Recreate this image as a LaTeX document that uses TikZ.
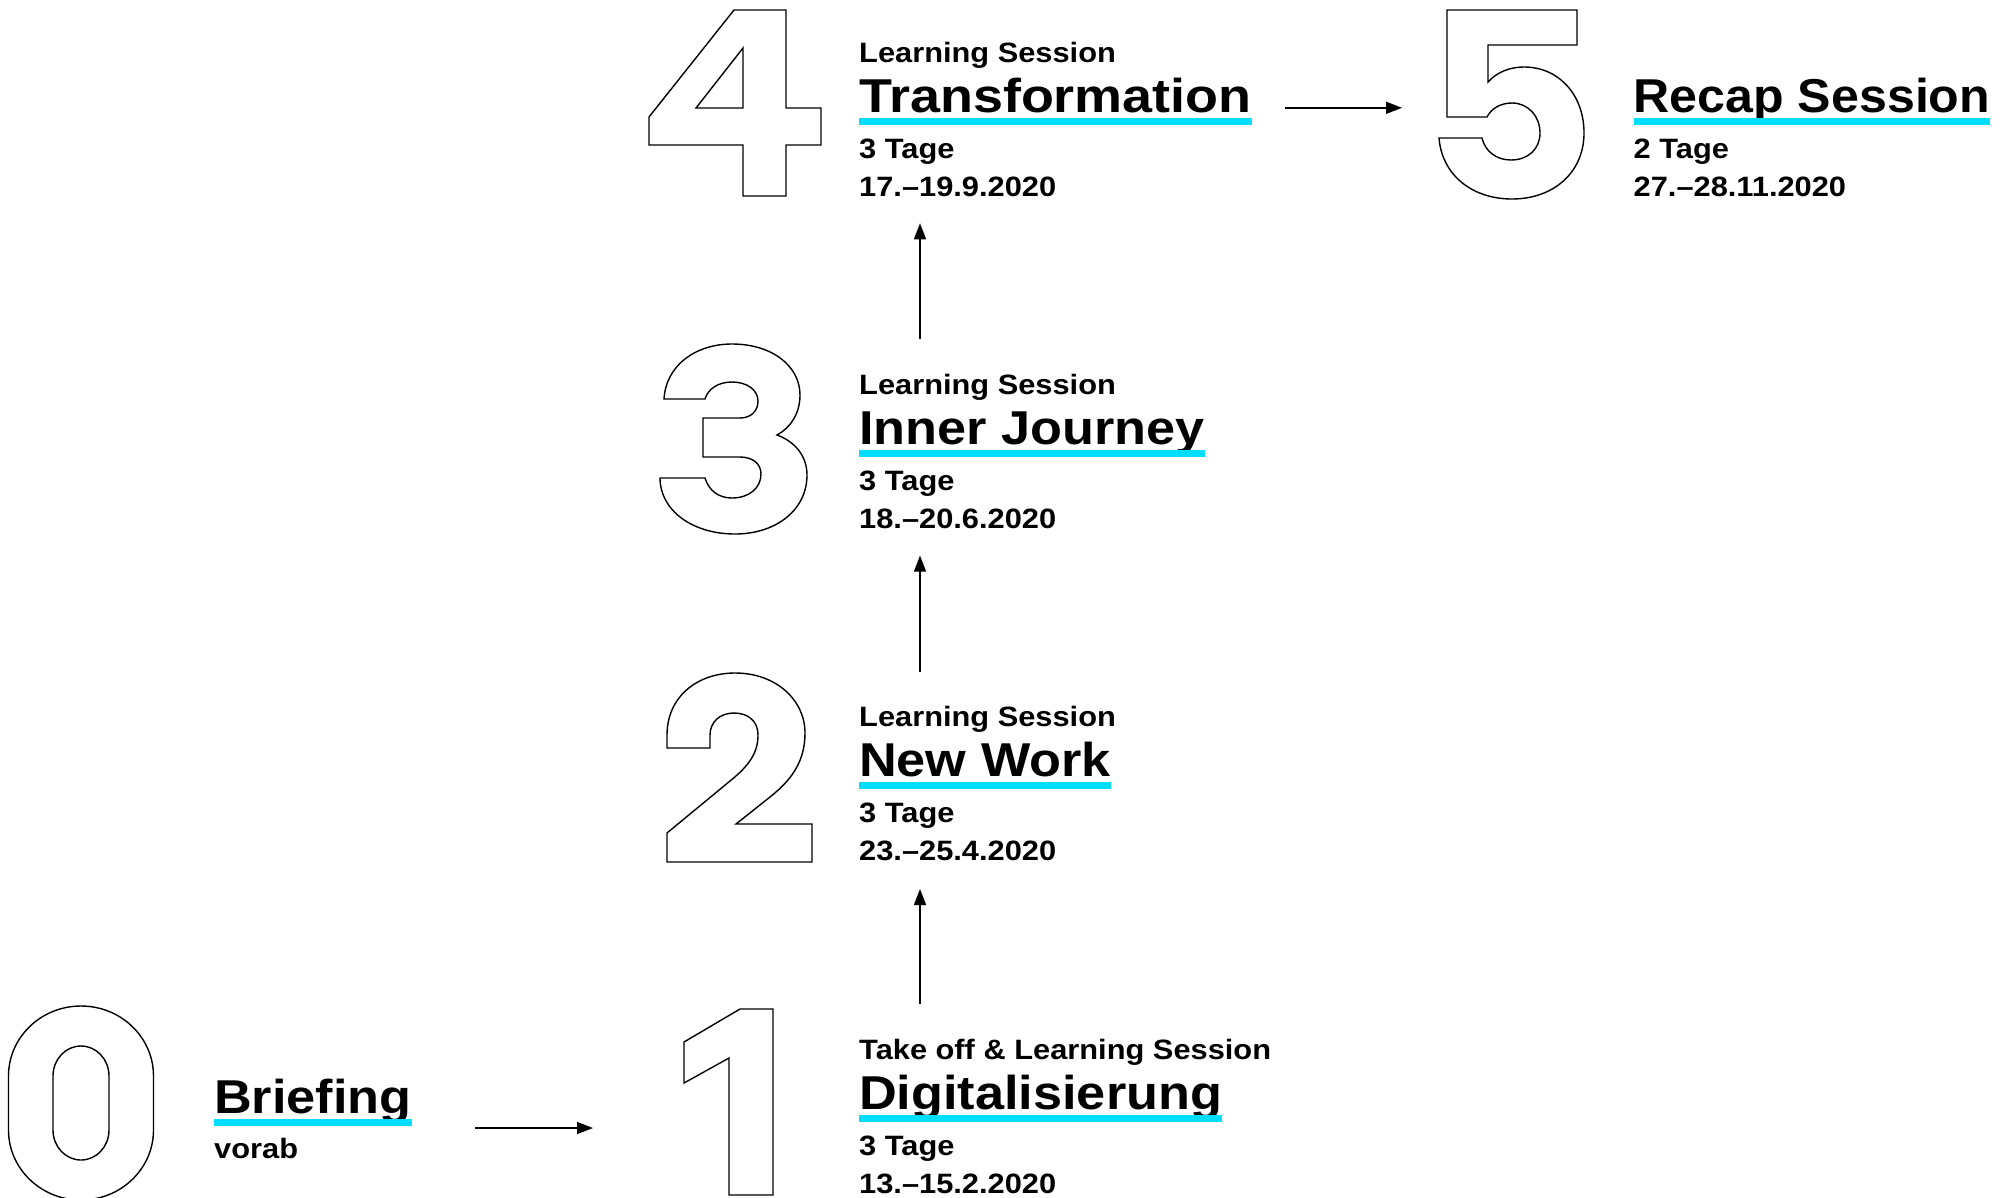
\documentclass[tikz,border=0pt]{standalone}
\usepackage{fontspec}
\usetikzlibrary{arrows.meta}
\newfontfamily\bff{Liberation Sans Bold}[FakeStretch=1.1]
\newfontfamily\bffwide{Liberation Sans Bold}[FakeStretch=1.135]
\newfontfamily\bffnarrow{Liberation Sans Bold}[FakeStretch=1.055]
\definecolor{barcyan}{RGB}{0,222,255}
\tikzset{
  digit/.style={draw=black, line width=1.4pt, line join=miter},
  lab/.style={anchor=base west, inner sep=0pt, font=\bff\fontsize{28}{32}\selectfont},
  ttl/.style={anchor=base west, inner sep=0pt, font=\bff\fontsize{47.5}{54}\selectfont},
  conn/.style={line width=1.5pt, -{Triangle[length=16pt,width=12pt]}},
  ubar/.style={fill=barcyan, draw=none},
}
% #1 id, #2 x, #3 title baseline y, #4 label, #5 title, #6 days, #7 date
\newcommand\sessionblock[7]{%
  \node[lab] (lab#1) at (#2,#3-50) {#4};
  \node[ttl] (tit#1) at (#2,#3) {#5};
  \fill[ubar] ([yshift=-6pt]tit#1.base west) rectangle ([yshift=-13pt]tit#1.base east);
  \node[lab] (day#1) at (#2,#3+46) {#6};
  \node[lab] (dat#1) at (#2,#3+84) {#7};
}
\begin{document}
\begin{tikzpicture}[x=1pt,y=-1pt]
\useasboundingbox (0,0) rectangle (2012,1197);

% ---- digit 0
\draw[digit] (8.5,1076) .. controls (8.5,1037.3) and (41,1006) .. (81,1006)
  .. controls (121,1006) and (153.5,1037.3) .. (153.5,1076) -- (153.5,1130)
  .. controls (153.5,1168.7) and (121,1200) .. (81,1200)
  .. controls (41,1200) and (8.5,1168.7) .. (8.5,1130) -- cycle;
\draw[digit] (53,1076) .. controls (53,1059.4) and (65.5,1046) .. (81,1046)
  .. controls (96.5,1046) and (109,1059.4) .. (109,1076) -- (109,1130)
  .. controls (109,1146.6) and (96.5,1160) .. (81,1160)
  .. controls (65.5,1160) and (53,1146.6) .. (53,1130) -- cycle;

% ---- digit 1
\draw[digit] (740,1009) -- (773,1009) -- (773,1195) -- (729,1195) -- (729,1058)
  -- (684,1083) -- (684,1042) -- cycle;

% ---- digit 2
\draw[digit] (667,748) -- (667,735) .. controls (667,697) and (697,673) .. (735,673)
  .. controls (776,673) and (805,700) .. (805,733)
  .. controls (805,763) and (790,781) .. (770,797) -- (736,824) -- (812,824)
  -- (812,862) -- (667,862) -- (667,833) -- (730,781)
  .. controls (750,765) and (758,752) .. (758,735)
  .. controls (758,721) and (748,713) .. (734,713)
  .. controls (720,713) and (710,722) .. (710,735) -- (710,748) -- cycle;

% ---- digit 3
\draw[digit] (664,399) .. controls (666,365) and (696,344) .. (732,344)
  .. controls (772,344) and (800,366) .. (800,395)
  .. controls (800,414) and (790,428) .. (777,435)
  .. controls (796,442) and (807,457) .. (807,475)
  .. controls (807,510) and (776,534) .. (735,534)
  .. controls (692,534) and (660,510) .. (660,478) -- (705,478)
  .. controls (709,491) and (719,498) .. (732,498)
  .. controls (749,498) and (761,488) .. (761,474)
  .. controls (761,464) and (753,457) .. (740,457) -- (703,457) -- (703,418) -- (740,418)
  .. controls (751,418) and (758,411) .. (758,401)
  .. controls (758,390) and (747,382) .. (732,382)
  .. controls (718,382) and (708,389) .. (705,399) -- cycle;

% ---- digit 4
\draw[digit] (734,10) -- (786,10) -- (786,108) -- (821,108) -- (821,145) -- (786,145)
  -- (786,196) -- (743,196) -- (743,145) -- (649,145) -- (649,117) -- cycle;
\draw[digit] (743,48) -- (743,108) -- (696,108) -- cycle;

% ---- digit 5
\draw[digit] (1447,10) -- (1577,10) -- (1577,45) -- (1488,45) -- (1488,82)
  .. controls (1497,72) and (1510,67) .. (1524,67)
  .. controls (1559,67) and (1584,95) .. (1584,133)
  .. controls (1584,172) and (1554,199) .. (1512,199)
  .. controls (1472,199) and (1442,175) .. (1439,138) -- (1482,138)
  .. controls (1485,151) and (1496,160) .. (1511,160)
  .. controls (1528,160) and (1540,149) .. (1540,133)
  .. controls (1540,116) and (1528,103) .. (1512,103)
  .. controls (1500,103) and (1491,109) .. (1487,117) -- (1447,117) -- cycle;

% ---- texts
\node[ttl] (tit0) at (214,1113) {Briefing};
\fill[ubar] ([yshift=-6pt]tit0.base west) rectangle ([yshift=-13pt]tit0.base east);
\node[lab] (day0) at (214,1158) {vorab};

\sessionblock{1}{859}{1109}{Take off \& Learning Session}{Digitalisierung}{3 Tage}{13.–15.2.2020}
\sessionblock{2}{859}{776}{Learning Session}{New Work}{3 Tage}{23.–25.4.2020}
\sessionblock{3}{859}{444}{Learning Session}{Inner Journey}{3 Tage}{18.–20.6.2020}
\sessionblock{4}{859}{112}{Learning Session}{{\bffwide\fontsize{47.5}{54}\selectfont Transformation}}{3 Tage}{17.–19.9.2020}

\node[ttl] (tit5) at (1633.5,112) {\bffnarrow\fontsize{47.5}{54}\selectfont Recap Session};
\fill[ubar] ([yshift=-6pt]tit5.base west) rectangle ([yshift=-13pt]tit5.base east);
\node[lab] (day5) at (1633.5,158) {2 Tage};
\node[lab] (dat5) at (1633.5,196) {27.–28.11.2020};

% ---- connectors
\coordinate (c01s) at (475,1128);  \coordinate (c01e) at (593,1128);
\coordinate (c12s) at (920,1003.5); \coordinate (c12e) at (920,889);
\coordinate (c23s) at (920,672.4);  \coordinate (c23e) at (920,555.6);
\coordinate (c34s) at (920,338.7);  \coordinate (c34e) at (920,223.3);
\coordinate (c45s) at (1285,107.8); \coordinate (c45e) at (1402,107.8);
\draw[conn] (c01s) -- (c01e);
\draw[conn] (c12s) -- (c12e);
\draw[conn] (c23s) -- (c23e);
\draw[conn] (c34s) -- (c34e);
\draw[conn] (c45s) -- (c45e);
\end{tikzpicture}
\end{document}
